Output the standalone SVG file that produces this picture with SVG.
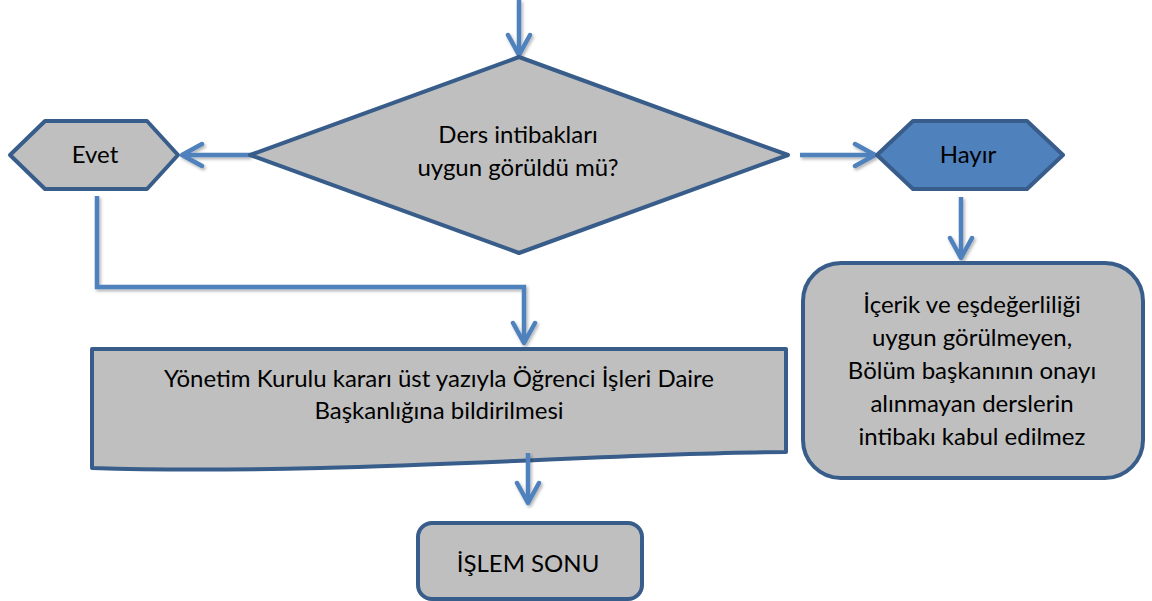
<svg xmlns="http://www.w3.org/2000/svg" width="1152" height="601" viewBox="0 0 1152 601">
<style>
.shape{fill:#bfbfbf;stroke:#385d8a;stroke-width:4;stroke-linejoin:round}
.blue{fill:#4f81bd}
.conn{fill:none;stroke:#4f81bd;stroke-width:4.5;filter:url(#sh)}
.t{font-family:Lato,"Liberation Sans",sans-serif;font-size:24px;fill:#000;text-anchor:middle}
</style>
<defs>
<filter id="sh" filterUnits="userSpaceOnUse" x="0" y="0" width="1152" height="601">
<feDropShadow dx="1.5" dy="2" stdDeviation="1.5" flood-color="#000" flood-opacity="0.3"/>
</filter>
<marker id="ah" viewBox="-24 -14 28 28" refX="0" refY="0" markerWidth="28" markerHeight="28" markerUnits="userSpaceOnUse" orient="auto">
<path d="M-20,-11 L0,0 L-20,11" fill="none" stroke="#4f81bd" stroke-width="4.5" stroke-linecap="round" stroke-linejoin="round"/>
</marker>
</defs>
<g id="connectors">
<path class="conn" d="M519,0 L519,55" marker-end="url(#ah)"/>
<path class="conn" d="M250,155 L182,155" marker-end="url(#ah)"/>
<path class="conn" d="M800,155 L875,155" marker-end="url(#ah)"/>
<path class="conn" d="M961,197 L961,258" marker-end="url(#ah)"/>
<path class="conn" d="M97,196 L97,287 L524,287 L524,343" marker-end="url(#ah)"/>
</g>
<g id="decision">
<polygon class="shape" points="519,57 788,155 519,253 250,155"/>
<text class="t" x="518" y="143">Ders intibakları</text>
<text class="t" x="518" y="176">uygun görüldü mü?</text>
</g>
<g id="evet">
<polygon class="shape" points="10,155 45,121 147,121 178,155 147,189 45,189"/>
<text class="t" x="95" y="163">Evet</text>
</g>
<g id="hayir">
<polygon class="shape blue" points="877,155 913,121 1027,121 1063,155 1027,189 913,189"/>
<text class="t" x="968" y="163">Hayır</text>
</g>
<g id="red">
<rect class="shape" x="803" y="263" width="340" height="215" rx="38" ry="38"/>
<text class="t" x="972" y="313">İçerik ve eşdeğerliliği</text>
<text class="t" x="972" y="346">uygun görülmeyen,</text>
<text class="t" x="972" y="379">Bölüm başkanının onayı</text>
<text class="t" x="972" y="412">alınmayan derslerin</text>
<text class="t" x="972" y="445">intibakı kabul edilmez</text>
</g>
<g id="document">
<path class="shape" d="M92,349 L786,349 L786,452 C620,452 330,476 92,468 Z"/>
<text class="t" x="439" y="387">Yönetim Kurulu kararı üst yazıyla Öğrenci İşleri Daire</text>
<text class="t" x="439" y="419">Başkanlığına bildirilmesi</text>
</g>
<g id="connector-doc">
<path class="conn" d="M528,453 L528,503" marker-end="url(#ah)"/>
</g>
<g id="end">
<rect class="shape" x="418" y="523" width="224" height="76" rx="14" ry="14"/>
<text class="t" x="528" y="572">İŞLEM SONU</text>
</g>
</svg>
